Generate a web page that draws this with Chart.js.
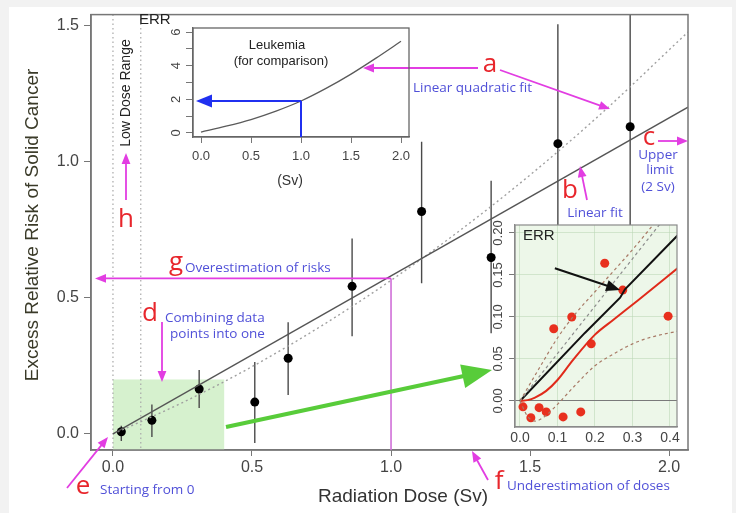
<!DOCTYPE html>
<html lang="en">
<head>
<meta charset="UTF-8" />
<title>Excess Relative Risk of Solid Cancer</title>
<script src="https://cdn.jsdelivr.net/npm/chart.js@4/dist/chart.umd.min.js"></script>
<style>
  html, body { margin: 0; padding: 0; background: #f2f2f2; }
  #wrap { position: relative; width: 736px; height: 513px; overflow: hidden; }
  canvas { position: absolute; }
  #mainChart { left: 0; top: 0; }
  #leukChart { left: 120px; top: 0; }
  #lowChart { left: 480px; top: 215px; }
</style>
</head>
<body>
<div id="wrap">
  <canvas id="mainChart" width="736" height="513"></canvas>
  <canvas id="leukChart" width="300" height="195"></canvas>
  <canvas id="lowChart" width="206" height="235"></canvas>
</div>
<script>
// main panel: dose groups with ERR and error bars
const doseSv = [0.03, 0.14, 0.31, 0.51, 0.63, 0.86, 1.11, 1.36, 1.6, 1.86];
const errValue = [0.008, 0.05, 0.165, 0.117, 0.278, 0.542, 0.817, 0.648, 1.066, 1.128];
const errLower = [-0.026, -0.011, 0.095, -0.033, 0.143, 0.359, 0.553, 0.37, 0.63, 0.67];
const errUpper = [0.03, 0.108, 0.235, 0.264, 0.41, 0.718, 1.073, 0.93, 1.505, 1.6];

const fitDose = [0, 2.068];
const linearFit = [0, 1.2];
const lqDose = [0, 0.25, 0.5, 0.75, 1, 1.25, 1.5, 1.75, 2.068];
const lqFit = [0, 0.115, 0.247, 0.397, 0.564, 0.749, 0.951, 1.171, 1.476];

const lowDoseRange = [0, 0.1];
const combinedDose = [0, 0.4];
const combinedTop = 0.2;
const overestimate = { dose: 1.0, err: 0.571 };

const mainXTicks = [0, 0.5, 1, 1.5, 2];
const mainYTicks = [0, 0.5, 1, 1.5];

// leukemia inset
const leukDose = [0, 0.25, 0.5, 0.75, 1, 1.25, 1.5, 1.75, 2];
const leukErr = [0.05, 0.4, 0.8, 1.3, 1.9, 2.65, 3.5, 4.45, 5.45];
const leukXTicks = [0, 0.5, 1, 1.5, 2];
const leukYTicks = [0, 1, 2, 3, 4, 5, 6];

// low dose inset
const lowPtDose = [0.008, 0.029, 0.051, 0.07, 0.09, 0.115, 0.138, 0.162, 0.19, 0.226, 0.274, 0.395];
const lowPtErr = [-0.007, -0.02, -0.008, -0.013, 0.086, -0.019, 0.1, -0.013, 0.068, 0.164, 0.132, 0.101];
const lowBlackDose = [0, 0.173, 0.267, 0.28, 0.42];
const lowBlackErr = [0, 0.081, 0.123, 0.133, 0.197];
const lowRedDose = [0, 0.02, 0.04, 0.07, 0.1, 0.14, 0.2, 0.25, 0.315, 0.42];
const lowRedErr = [0, 0.001, 0.004, 0.012, 0.025, 0.048, 0.079, 0.097, 0.12, 0.158];
const lowLinDose = [0, 0.42];
const lowLinErr = [0, 0.237];
const bandUpDose = [0, 0.05, 0.1, 0.15, 0.2, 0.25, 0.3, 0.35, 0.4];
const bandUpErr = [0, 0.038, 0.075, 0.105, 0.13, 0.155, 0.18, 0.207, 0.235];
const bandLoDose = [0, 0.02, 0.04, 0.07, 0.1, 0.15, 0.2, 0.25, 0.3, 0.35, 0.42];
const bandLoErr = [0, -0.018, -0.024, -0.017, -0.004, 0.02, 0.042, 0.056, 0.068, 0.076, 0.083];
const lowXTicks = [0, 0.1, 0.2, 0.3, 0.4];
const lowYTicks = [0, 0.05, 0.1, 0.15, 0.2];

const pts = (xs, ys) => xs.map((x, i) => ({ x, y: ys[i] }));
const AXIS_FONT = "'Liberation Sans', Arial, sans-serif";
const NOTE_FONT = "'Open Sans', 'Noto Sans', sans-serif";
const RED = '#e8262c', BLUE = '#5050d8', MAGENTA = '#e23de2';

function arrow(ctx, x1, y1, x2, y2, color, width, head) {
  const a = Math.atan2(y2 - y1, x2 - x1);
  const c = Math.cos(a), s = Math.sin(a), w = head * 0.4;
  ctx.save();
  ctx.strokeStyle = color;
  ctx.fillStyle = color;
  ctx.lineWidth = width;
  ctx.beginPath();
  ctx.moveTo(x1, y1);
  ctx.lineTo(x2 - c * head * 0.8, y2 - s * head * 0.8);
  ctx.stroke();
  ctx.beginPath();
  ctx.moveTo(x2, y2);
  ctx.lineTo(x2 - head * c + w * s, y2 - head * s - w * c);
  ctx.lineTo(x2 - head * c - w * s, y2 - head * s + w * c);
  ctx.closePath();
  ctx.fill();
  ctx.restore();
}

function text(ctx, str, x, y, font, color, align = 'left', rot = 0) {
  ctx.save();
  ctx.font = font;
  ctx.fillStyle = color;
  ctx.textAlign = align;
  ctx.textBaseline = 'middle';
  ctx.translate(x, y);
  if (rot) ctx.rotate(rot);
  ctx.fillText(str, 0, 0);
  ctx.restore();
}

function rotatedYLabels(chart, scale, xPos, font, fmt, keep) {
  for (const t of scale.ticks) {
    if (keep && !keep(t.value)) continue;
    text(chart.ctx, fmt(t.value), xPos, scale.getPixelForValue(t.value), font, '#444', 'center', -Math.PI / 2);
  }
}

const mainDecor = {
  id: 'mainDecor',
  beforeDraw(chart) {
    const ctx = chart.ctx;
    ctx.save();
    ctx.fillStyle = '#ffffff';
    ctx.fillRect(9, 7, 723, 506);
    ctx.restore();
  },
  beforeDatasetsDraw(chart) {
    const { ctx, chartArea: a, scales: { x, y } } = chart;
    ctx.save();
    ctx.beginPath();
    ctx.rect(a.left, a.top, a.width, a.height);
    ctx.clip();
    // combined low-dose box
    const bx0 = x.getPixelForValue(combinedDose[0]), bx1 = x.getPixelForValue(combinedDose[1]);
    const by = y.getPixelForValue(combinedTop);
    ctx.fillStyle = '#d6f1ce';
    ctx.fillRect(bx0, by, bx1 - bx0, a.bottom - by);
    // low dose range bounds
    ctx.strokeStyle = '#a8a8a8';
    ctx.lineWidth = 1.2;
    ctx.setLineDash([1.5, 3]);
    for (const d of lowDoseRange) {
      const px = x.getPixelForValue(d);
      ctx.beginPath();
      ctx.moveTo(px, a.top);
      ctx.lineTo(px, a.bottom);
      ctx.stroke();
    }
    ctx.setLineDash([]);
    // error bars
    ctx.strokeStyle = '#4a4a4a';
    ctx.lineWidth = 1.4;
    doseSv.forEach((d, i) => {
      const px = x.getPixelForValue(d);
      ctx.beginPath();
      ctx.moveTo(px, y.getPixelForValue(errLower[i]));
      ctx.lineTo(px, y.getPixelForValue(errUpper[i]));
      ctx.stroke();
    });
    ctx.restore();
  },
  afterDraw(chart) {
    const { ctx, chartArea: a, scales: { x, y } } = chart;
    ctx.save();
    ctx.strokeStyle = '#777';
    ctx.lineWidth = 1.5;
    ctx.strokeRect(a.left, a.top, a.width, a.height);
    ctx.restore();

    // axis titles
    text(ctx, 'Excess Relative Risk of Solid Cancer', 33, 225, `19px ${AXIS_FONT}`, '#3a3a28', 'center', -Math.PI / 2);
    text(ctx, 'Radiation Dose (Sv)', 403, 497, `19px ${AXIS_FONT}`, '#333', 'center');
    text(ctx, 'Low Dose Range', 126, 93, `14px ${AXIS_FONT}`, '#222', 'center', -Math.PI / 2);

    // g: overestimation
    const gx = x.getPixelForValue(overestimate.dose), gy = y.getPixelForValue(overestimate.err);
    ctx.save();
    ctx.strokeStyle = '#d070d8';
    ctx.lineWidth = 1.6;
    ctx.beginPath();
    ctx.moveTo(gx, gy);
    ctx.lineTo(gx, a.bottom);
    ctx.stroke();
    ctx.restore();
    arrow(ctx, gx, gy, 95, gy, MAGENTA, 1.8, 11);

    // green zoom arrow
    arrow(ctx, 226, 427, 492, 370, '#58cc3a', 4, 30);

    // magenta pointers
    arrow(ctx, 478, 68, 363, 68, MAGENTA, 1.8, 11);
    arrow(ctx, 500, 70, 610, 109, MAGENTA, 1.8, 11);
    arrow(ctx, 587, 200, 580, 166, MAGENTA, 1.8, 11);
    arrow(ctx, 658, 141, 688, 141, MAGENTA, 1.8, 11);
    arrow(ctx, 162, 322, 162, 382, MAGENTA, 1.8, 11);
    arrow(ctx, 67, 488, 108, 437, MAGENTA, 1.8, 11);
    arrow(ctx, 488, 480, 472, 451, MAGENTA, 1.8, 11);
    arrow(ctx, 126, 200, 126, 153, MAGENTA, 1.8, 11);

    const big = `26px ${NOTE_FONT}`, note = `13.5px ${NOTE_FONT}`;
    text(ctx, 'a', 490, 65, big, RED, 'center');
    text(ctx, 'b', 570, 191, big, RED, 'center');
    text(ctx, 'c', 649, 138, big, RED, 'center');
    text(ctx, 'd', 150, 314, big, RED, 'center');
    text(ctx, 'e', 83, 487, big, RED, 'center');
    text(ctx, 'f', 499, 482, big, RED, 'center');
    text(ctx, 'g', 176, 263, big, RED, 'center');
    text(ctx, 'h', 126, 220, big, RED, 'center');

    text(ctx, 'Linear quadratic fit', 413, 88, note, BLUE);
    text(ctx, 'Linear fit', 595, 213, note, BLUE, 'center');
    text(ctx, 'Upper', 658, 155, note, BLUE, 'center');
    text(ctx, 'limit', 660, 170, note, BLUE, 'center');
    text(ctx, '(2 Sv)', 658, 187, note, BLUE, 'center');
    text(ctx, 'Overestimation of risks', 185, 268, note, BLUE);
    text(ctx, 'Combining data', 165, 318, note, BLUE);
    text(ctx, 'points into one', 170, 334, note, BLUE);
    text(ctx, 'Starting from 0', 100, 490, note, BLUE);
    text(ctx, 'Underestimation of doses', 507, 486, note, BLUE);
  }
};

new Chart(document.getElementById('mainChart'), {
  type: 'scatter',
  data: {
    datasets: [
      { type: 'line', label: 'Linear fit', data: pts(fitDose, linearFit), borderColor: '#555', borderWidth: 1.3, pointRadius: 0 },
      { type: 'line', label: 'Linear quadratic fit', data: pts(lqDose, lqFit), borderColor: '#a0a0a0', borderWidth: 1.4, borderDash: [2, 3], pointRadius: 0, cubicInterpolationMode: 'monotone' },
      { label: 'ERR', data: pts(doseSv, errValue), backgroundColor: '#000', borderWidth: 0, pointRadius: 4.5 }
    ]
  },
  options: {
    responsive: false,
    animation: false,
    layout: { padding: { top: 14, right: 48, left: 0, bottom: 0 } },
    plugins: { legend: { display: false }, tooltip: { enabled: false } },
    scales: {
      x: {
        type: 'linear', min: -0.079, max: 2.068,
        afterFit(s) { s.height = 63; },
        afterBuildTicks(s) { s.ticks = mainXTicks.map(v => ({ value: v })); },
        ticks: { callback: v => v.toFixed(1), font: { family: AXIS_FONT, size: 16 }, color: '#444', padding: 2, maxRotation: 0 },
        grid: { drawOnChartArea: false, tickLength: 6, color: '#777' },
        border: { color: '#777', width: 1.5 }
      },
      y: {
        type: 'linear', min: -0.059, max: 1.54,
        afterFit(s) { s.width = 91; },
        afterBuildTicks(s) { s.ticks = mainYTicks.map(v => ({ value: v })); },
        ticks: { callback: v => v.toFixed(1), font: { family: AXIS_FONT, size: 16 }, color: '#444', padding: 5 },
        grid: { drawOnChartArea: false, tickLength: 7, color: '#777' },
        border: { color: '#777', width: 1.5 }
      }
    }
  },
  plugins: [mainDecor]
});

const leukDecor = {
  id: 'leukDecor',
  afterDraw(chart) {
    const { ctx, chartArea: a, scales: { x, y } } = chart;
    ctx.save();
    ctx.strokeStyle = '#666';
    ctx.lineWidth = 1.3;
    ctx.strokeRect(a.left, a.top, a.width, a.height);
    // blue read-off at 1 Sv
    const px = x.getPixelForValue(leukDose[4]), py = y.getPixelForValue(leukErr[4]);
    ctx.strokeStyle = '#2030f0';
    ctx.lineWidth = 2;
    ctx.beginPath();
    ctx.moveTo(px, a.bottom);
    ctx.lineTo(px, py);
    ctx.stroke();
    ctx.restore();
    arrow(ctx, px, py, a.left + 3, py, '#2030f0', 2, 16);

    rotatedYLabels(chart, y, 56, `13px ${AXIS_FONT}`, v => String(v), v => v % 2 === 0);
    text(ctx, 'ERR', 19, 20, `15px ${AXIS_FONT}`, '#222');
    text(ctx, 'Leukemia', 157, 45, `13px ${AXIS_FONT}`, '#222', 'center');
    text(ctx, '(for comparison)', 161, 61, `13px ${AXIS_FONT}`, '#222', 'center');
    text(ctx, '(Sv)', 170, 181, `14px ${AXIS_FONT}`, '#333', 'center');
  }
};

new Chart(document.getElementById('leukChart'), {
  type: 'line',
  data: {
    datasets: [
      { label: 'Leukemia', data: pts(leukDose, leukErr), borderColor: '#5a5a5a', borderWidth: 1.3, pointRadius: 0, cubicInterpolationMode: 'monotone' }
    ]
  },
  options: {
    responsive: false,
    animation: false,
    layout: { padding: { top: 28, right: 11, left: 0, bottom: 0 } },
    plugins: { legend: { display: false }, tooltip: { enabled: false } },
    scales: {
      x: {
        type: 'linear', min: -0.08, max: 2.08,
        afterFit(s) { s.height = 58; },
        afterBuildTicks(s) { s.ticks = leukXTicks.map(v => ({ value: v })); },
        ticks: { callback: v => v.toFixed(1), font: { family: AXIS_FONT, size: 13 }, color: '#444', padding: 6, maxRotation: 0 },
        grid: { drawOnChartArea: false, tickLength: 6, color: '#777' },
        border: { color: '#666', width: 1.3 }
      },
      y: {
        type: 'linear', min: -0.24, max: 6.24,
        afterFit(s) { s.width = 73; },
        afterBuildTicks(s) { s.ticks = leukYTicks.map(v => ({ value: v })); },
        ticks: { display: false },
        grid: { drawOnChartArea: false, tickLength: 7, color: '#777' },
        border: { color: '#666', width: 1.3 }
      }
    }
  },
  plugins: [leukDecor]
});

const lowDecor = {
  id: 'lowDecor',
  beforeDraw(chart) {
    const { ctx, chartArea: a } = chart;
    ctx.save();
    ctx.fillStyle = '#edf7e9';
    ctx.fillRect(a.left, a.top, a.width, a.height);
    ctx.restore();
  },
  afterDraw(chart) {
    const { ctx, chartArea: a, scales: { x, y } } = chart;
    ctx.save();
    ctx.strokeStyle = '#8a8a8a';
    ctx.lineWidth = 1.2;
    ctx.strokeRect(a.left, a.top, a.width, a.height);
    ctx.restore();
    rotatedYLabels(chart, y, 18, `13px ${AXIS_FONT}`, v => v.toFixed(2));
    text(ctx, 'ERR', 43, 21, `15px ${AXIS_FONT}`, '#222');
    arrow(ctx, x.getPixelForValue(0.093), y.getPixelForValue(0.158),
      x.getPixelForValue(0.267), y.getPixelForValue(0.132), '#111', 2, 14);
  }
};

new Chart(document.getElementById('lowChart'), {
  type: 'scatter',
  data: {
    datasets: [
      { type: 'line', label: 'Upper band', data: pts(bandUpDose, bandUpErr), borderColor: '#a87a66', borderWidth: 1.2, borderDash: [3, 3], pointRadius: 0, cubicInterpolationMode: 'monotone' },
      { type: 'line', label: 'Linear', data: pts(lowLinDose, lowLinErr), borderColor: '#8c8c8c', borderWidth: 1.2, borderDash: [3, 3], pointRadius: 0 },
      { type: 'line', label: 'Lower band', data: pts(bandLoDose, bandLoErr), borderColor: '#a87a66', borderWidth: 1.2, borderDash: [3, 3], pointRadius: 0, cubicInterpolationMode: 'monotone' },
      { type: 'line', label: 'Smoothed', data: pts(lowRedDose, lowRedErr), borderColor: '#e02a1a', borderWidth: 2, pointRadius: 0, cubicInterpolationMode: 'monotone' },
      { type: 'line', label: 'Fit', data: pts(lowBlackDose, lowBlackErr), borderColor: '#111', borderWidth: 2, pointRadius: 0 },
      { label: 'Dose groups', data: pts(lowPtDose, lowPtErr), backgroundColor: '#e8301e', borderWidth: 0, pointRadius: 4.5 }
    ]
  },
  options: {
    responsive: false,
    animation: false,
    layout: { padding: { top: 10, right: 9, left: 0, bottom: 0 } },
    plugins: { legend: { display: false }, tooltip: { enabled: false } },
    scales: {
      x: {
        type: 'linear', min: -0.0133, max: 0.4187,
        afterFit(s) { s.height = 23; },
        afterBuildTicks(s) { s.ticks = lowXTicks.map(v => ({ value: v })); },
        ticks: { callback: v => v.toFixed(1), font: { family: AXIS_FONT, size: 14 }, color: '#444', padding: 3, maxRotation: 0 },
        grid: { drawTicks: false, color: 'rgba(185, 215, 180, 0.55)' },
        border: { color: '#8a8a8a', width: 1.2 }
      },
      y: {
        type: 'linear', min: -0.031, max: 0.2095,
        afterFit(s) { s.width = 35; },
        afterBuildTicks(s) { s.ticks = lowYTicks.map(v => ({ value: v })); },
        ticks: { display: false },
        grid: {
          tickLength: 6, tickColor: '#777',
          color: c => c.tick && c.tick.value === 0 ? '#7a7a7a' : 'rgba(185, 215, 180, 0.55)'
        },
        border: { color: '#8a8a8a', width: 1.2 }
      }
    }
  },
  plugins: [lowDecor]
});
</script>
</body>
</html>
